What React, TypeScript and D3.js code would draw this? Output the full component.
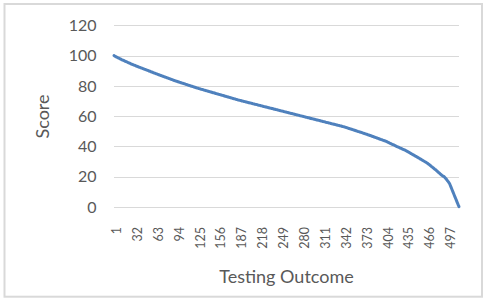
import React from "react";
import * as d3 from "d3";

// Score values (one per testing outcome, 1..513)
const scores: number[] = [
  100, 99.7, 99.5, 99.2, 99.0, 98.8, 98.5, 98.3, 98.1, 97.9,
  97.7, 97.4, 97.2, 97.0, 96.8, 96.6, 96.4, 96.2, 96.0, 95.8,
  95.6, 95.4, 95.2, 95.0, 94.8, 94.6, 94.4, 94.2, 94.0, 93.8,
  93.7, 93.5,
  93.3, 93.1, 92.9, 92.8, 92.6, 92.4, 92.2, 92.1, 91.9, 91.7,
  91.6, 91.4, 91.2, 91.0, 90.9, 90.7, 90.5, 90.4, 90.2, 90.0,
  89.8, 89.7, 89.5, 89.3, 89.1, 89.0, 88.8, 88.6, 88.4, 88.3, 88.1,
  87.9, 87.8, 87.6, 87.4, 87.3, 87.1, 86.9, 86.8, 86.6, 86.4,
  86.3, 86.1, 85.9, 85.8, 85.6, 85.5, 85.3, 85.1, 85.0, 84.8,
  84.6, 84.5, 84.3, 84.1, 84.0, 83.8, 83.6, 83.5, 83.3, 83.2, 83.0,
  82.9, 82.7, 82.6, 82.4, 82.3, 82.1, 82.0, 81.8, 81.7, 81.6,
  81.4, 81.3, 81.1, 81.0, 80.8, 80.7, 80.5, 80.4, 80.2, 80.1,
  79.9, 79.8, 79.7, 79.5, 79.4, 79.2, 79.1, 78.9, 78.8, 78.6, 78.5,
  78.4, 78.2, 78.1, 78.0, 77.8, 77.7, 77.6, 77.5, 77.3, 77.2,
  77.1, 76.9, 76.8, 76.7, 76.6, 76.4, 76.3, 76.2, 76.0, 75.9,
  75.8, 75.6, 75.5, 75.4, 75.3, 75.1, 75.0, 74.9, 74.7, 74.6, 74.5,
  74.4, 74.2, 74.1, 74.0, 73.8, 73.7, 73.6, 73.5, 73.3, 73.2,
  73.1, 72.9, 72.8, 72.7, 72.6, 72.4, 72.3, 72.2, 72.0, 71.9,
  71.8, 71.6, 71.5, 71.4, 71.3, 71.1, 71.0, 70.9, 70.7, 70.6, 70.5,
  70.4, 70.3, 70.2, 70.0, 69.9, 69.8, 69.7, 69.6, 69.5, 69.4,
  69.3, 69.1, 69.0, 68.9, 68.8, 68.7, 68.6, 68.5, 68.4, 68.2,
  68.1, 68.0, 67.9, 67.8, 67.7, 67.6, 67.5, 67.3, 67.2, 67.1, 67.0,
  66.9, 66.8, 66.7, 66.5, 66.4, 66.3, 66.2, 66.1, 66.0, 65.9,
  65.8, 65.6, 65.5, 65.4, 65.3, 65.2, 65.1, 65.0, 64.9, 64.7,
  64.6, 64.5, 64.4, 64.3, 64.2, 64.1, 64.0, 63.8, 63.7, 63.6, 63.5,
  63.4, 63.3, 63.2, 63.0, 62.9, 62.8, 62.7, 62.6, 62.5, 62.4,
  62.3, 62.1, 62.0, 61.9, 61.8, 61.7, 61.6, 61.5, 61.4, 61.2,
  61.1, 61.0, 60.9, 60.8, 60.7, 60.6, 60.5, 60.3, 60.2, 60.1, 60.0,
  59.9, 59.8, 59.7, 59.5, 59.4, 59.3, 59.2, 59.1, 59.0, 58.9,
  58.8, 58.6, 58.5, 58.4, 58.3, 58.2, 58.1, 58.0, 57.9, 57.7,
  57.6, 57.5, 57.4, 57.3, 57.2, 57.1, 57.0, 56.8, 56.7, 56.6, 56.5,
  56.4, 56.3, 56.2, 56.0, 55.9, 55.8, 55.7, 55.6, 55.5, 55.4,
  55.3, 55.1, 55.0, 54.9, 54.8, 54.7, 54.6, 54.5, 54.4, 54.2,
  54.1, 54.0, 53.9, 53.8, 53.7, 53.6, 53.5, 53.3, 53.2, 53.1, 53.0,
  52.9, 52.7, 52.6, 52.4, 52.3, 52.1, 52.0, 51.8, 51.7, 51.6,
  51.4, 51.3, 51.1, 51.0, 50.8, 50.7, 50.5, 50.4, 50.2, 50.1,
  49.9, 49.8, 49.7, 49.5, 49.4, 49.2, 49.1, 48.9, 48.8, 48.6, 48.5,
  48.3, 48.2, 48.0, 47.9, 47.7, 47.5, 47.4, 47.2, 47.1, 46.9,
  46.7, 46.6, 46.4, 46.2, 46.1, 45.9, 45.8, 45.6, 45.4, 45.3,
  45.1, 44.9, 44.8, 44.6, 44.5, 44.3, 44.1, 44.0, 43.8, 43.7, 43.5,
  43.3, 43.1, 42.9, 42.7, 42.5, 42.2, 42.0, 41.8, 41.6, 41.4,
  41.2, 41.0, 40.8, 40.6, 40.3, 40.1, 39.9, 39.7, 39.5, 39.3,
  39.1, 38.9, 38.7, 38.5, 38.3, 38.1, 37.9, 37.7, 37.5, 37.3, 37.0,
  36.8, 36.5, 36.3, 36.0, 35.8, 35.5, 35.2, 35.0, 34.7, 34.5,
  34.2, 34.0, 33.7, 33.4, 33.2, 32.9, 32.7, 32.4, 32.2, 31.9,
  31.6, 31.4, 31.1, 30.8, 30.6, 30.3, 30.0, 29.8, 29.5, 29.2, 29.0,
  28.6, 28.3, 27.9, 27.6, 27.2, 26.8, 26.5, 26.1, 25.8, 25.4,
  25.0, 24.7, 24.3, 23.9, 23.5, 23.1, 22.7, 22.3, 21.9, 21.5,
  21.1, 20.8, 20.5, 20.2, 20.0,
  19.5, 19.0, 18.5, 17.9, 17.3, 16.7, 16.1, 15.5,
  14.4, 13.3, 12.2, 11.1, 10.0, 8.9, 7.8, 6.7, 5.6, 4.5, 3.4, 2.3, 1.2, 0.2,
];

// Category labels (testing outcome numbers)
const categories: number[] = scores.map((_, i) => i + 1);
const xTickLabels: string[] = [
  "1", "32", "63", "94", "125", "156", "187", "218", "249",
  "280", "311", "342", "373", "404", "435", "466", "497",
];
const yTicks: number[] = [0, 20, 40, 60, 80, 100, 120];

const W = 488;
const H = 302;
const FONT = "Lato, 'Open Sans', sans-serif";
const TEXT = "#595959";

export default function App() {
  const left = 114;
  const right = 459;
  const top = 25.3;
  const bottom = 207;

  const x = d3
    .scaleLinear()
    .domain([categories[0], categories[categories.length - 1]])
    .range([left, right]);
  const y = d3.scaleLinear().domain([0, 120]).range([bottom, top]);

  const line = d3
    .line<number>()
    .x((_, i) => x(categories[i]))
    .y((d) => y(d));

  return (
    <svg
      width={W}
      height={H}
      style={{ position: "absolute", left: 0, top: 0, background: "#fff" }}
    >
      <rect x={0} y={0} width={W} height={H} fill="#fff" />
      <rect
        x={4.5}
        y={4}
        width={477.5}
        height={292.7}
        fill="#fff"
        stroke="#d9d9d9"
        strokeWidth={2}
      />
      {yTicks.map((t) => (
        <g key={t}>
          <line
            x1={left}
            x2={right}
            y1={Math.round(y(t)) + 0.5}
            y2={Math.round(y(t)) + 0.5}
            stroke="#d9d9d9"
            strokeWidth={1}
          />
          <text
            x={96.5}
            y={y(t)}
            dy="0.36em"
            textAnchor="end"
            fontFamily={FONT}
            fontSize={16}
            fill={TEXT}
          >
            {t}
          </text>
        </g>
      ))}
      {xTickLabels.map((lab) => {
        const cx = x(+lab) + 2.5;
        return (
          <text
            key={lab}
            transform={`translate(${cx},227) rotate(-90)`}
            dy="0.36em"
            textAnchor="end"
            fontFamily={FONT}
            fontSize={12.5}
            fill={TEXT}
          >
            {lab}
          </text>
        );
      })}
      <path
        d={line(scores) || ""}
        fill="none"
        stroke="#4f81bd"
        strokeWidth={3}
        strokeLinejoin="round"
        strokeLinecap="round"
      />
      <text
        transform={`translate(43,116.5) rotate(-90)`}
        dy="0.36em"
        textAnchor="middle"
        fontFamily={FONT}
        fontSize={18}
        fill={TEXT}
      >
        Score
      </text>
      <text
        x={286.5}
        y={283}
        textAnchor="middle"
        fontFamily={FONT}
        fontSize={18}
        fill={TEXT}
      >
        Testing Outcome
      </text>
    </svg>
  );
}
